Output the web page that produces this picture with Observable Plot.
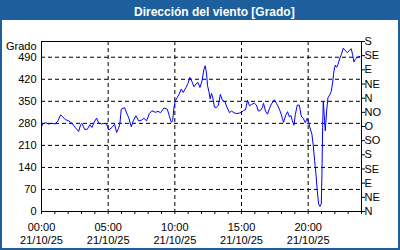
<!DOCTYPE html>
<html>
<head>
<meta charset="utf-8">
<script src="https://cdn.jsdelivr.net/npm/d3@7"></script>
<script src="https://cdn.jsdelivr.net/npm/@observablehq/plot@0.6"></script>
<style>
  html, body { margin: 0; padding: 0; background: #ffffff; }
  #wrap { position: relative; width: 400px; height: 250px; background: #1d5e9c; overflow: hidden; font-family: "Liberation Sans", Arial, sans-serif; }
  #title { position: absolute; left: 0; top: 2px; width: 400px; height: 20px; line-height: 20px; color: #ffffff; font-weight: bold; font-size: 12px; }
  #title span { position: absolute; left: 134px; top: 0; white-space: nowrap; }
  #panel { position: absolute; left: 2px; top: 20px; width: 396px; height: 228px; background: #ffffff; }
  #chart { position: absolute; left: 0; top: 20px; }
</style>
</head>
<body>
<div id="wrap">
  <div id="panel"></div>
  <div id="title"><span>Dirección del viento [Grado]</span></div>
  <div id="chart"></div>
</div>
<script>
const chartTitle = "Dirección del viento [Grado]";
const yUnitLabel = "Grado";
const dateLabel = "21/10/25";

const times = [
  "00:00","00:05","00:20","00:32","00:47","01:02","01:14","01:26","01:35","01:47",
  "02:02","02:17","02:32","02:47","02:56","03:02","03:14","03:26","03:38","03:47",
  "03:56","04:08","04:17","04:29","04:41","04:53","05:03","05:17","05:29","05:38",
  "05:47","05:53","05:59","06:14","06:23","06:33","06:44","06:53","07:05","07:17",
  "07:29","07:41","07:53","08:05","08:17","08:32","08:44","08:56","09:11","09:26",
  "09:35","09:44","09:50","09:56","10:02","10:11","10:20","10:29","10:38","10:50",
  "10:59","11:08","11:17","11:26","11:35","11:44","11:53","12:02","12:11","12:17",
  "12:23","12:27","12:33","12:39","12:45","12:51","12:58","13:07","13:16","13:25",
  "13:34","13:45","13:54","14:06","14:15","14:28","14:39","14:51","15:00","15:09",
  "15:18","15:27","15:36","15:45","15:58","16:07","16:16","16:25","16:34","16:39",
  "16:48","16:57","17:06","17:15","17:28","17:37","17:46","17:55","18:04","18:09",
  "18:18","18:27","18:36","18:42","18:48","18:56","19:02","19:11","19:20","19:29",
  "19:38","19:47","19:56","20:02","20:08","20:17","20:23","20:29","20:35","20:41",
  "20:47","20:53","20:59","21:02","21:05","21:08","21:14","21:17","21:23","21:29",
  "21:38","21:44","21:50","21:56","22:02","22:08","22:14","22:23","22:29","22:38",
  "22:47","22:56","23:05","23:14","23:20","23:26","23:32","23:41","23:47","23:53"
];
const values = [
  269,278,282,278,280,278,288,307,301,292,
  288,280,267,254,276,280,261,261,276,267,
  282,297,282,278,280,278,259,267,277,251,
  264,281,325,330,313,297,269,288,304,288,
  290,296,288,311,320,315,318,314,329,325,
  304,283,288,330,352,362,373,389,378,394,
  407,426,413,396,405,410,394,414,452,463,
  436,400,382,358,375,361,332,330,338,372,
  353,349,332,314,319,313,311,313,315,321,
  323,353,336,340,344,338,319,321,330,344,
  319,309,328,342,355,344,332,317,296,283,
  304,317,300,305,290,274,307,338,338,303,
  296,282,296,282,266,245,209,161,119,66,
  24,16,24,119,266,351,288,256,319,361,
  372,382,409,446,465,458,467,488,498,519,
  511,505,511,517,498,475,483,490,493,492
];

const yLeftTicks = [0, 70, 140, 210, 280, 350, 420, 490];
const yRightTicks = [0, 45, 90, 135, 180, 225, 270, 315, 360, 405, 450, 495, 540];
const yRightLabels = ["N","NE","E","SE","S","SO","O","NO","N","NE","E","SE","S"];
const xLabelHours = [0, 5, 10, 15, 20];
const yDomain = [0, 540];

const base = Date.UTC(2025, 9, 21);
const toDate = (h, m) => new Date(base + (h * 60 + m) * 60000);
const data = times.map((t, i) => {
  const [h, m] = t.split(":").map(Number);
  return { date: toDate(h, m), value: values[i] };
});
const majorDates = xLabelHours.map(h => toDate(h, 0));
const hourDates = d3.range(0, 25).map(h => toDate(h, 0));
const pad = n => String(n).padStart(2, "0");

const dash = "4,3";
const chart = Plot.plot({
  width: 400,
  height: 230,
  marginLeft: 41,
  marginRight: 39,
  marginTop: 21,
  marginBottom: 39,
  style: { background: "transparent", fontFamily: "'Liberation Sans', Arial, sans-serif", fontSize: "11px", color: "#000" },
  x: { type: "utc", domain: [toDate(0, 0), toDate(24, 0)] },
  y: { domain: yDomain },
  marks: [
    Plot.gridY(yLeftTicks.slice(1), { stroke: "#000", strokeOpacity: 1, strokeDasharray: dash }),
    Plot.gridX(majorDates.slice(1), { stroke: "#000", strokeOpacity: 1, strokeDasharray: dash }),
    Plot.line(data, { x: "date", y: "value", stroke: "#0000ff", strokeWidth: 1 }),
    Plot.frame({ stroke: "#000" }),
    Plot.axisY(yLeftTicks, { anchor: "left", tickSize: 0, tickPadding: 5, label: null }),
    Plot.text([yUnitLabel], { frameAnchor: "top-left", textAnchor: "end", lineAnchor: "middle", dx: -5, dy: 5 }),
    Plot.axisY(yRightTicks, { anchor: "right", tickSize: 3, tickPadding: 0, label: null,
      tickFormat: d => yRightLabels[yRightTicks.indexOf(d)] }),
    Plot.axisX(hourDates, { anchor: "bottom", tickSize: 3, tickFormat: () => "", label: null }),
    Plot.axisX(majorDates, { anchor: "bottom", tickSize: 0, tickPadding: 10, lineHeight: 1.22, label: null,
      tickFormat: d => `${pad(d.getUTCHours())}:${pad(d.getUTCMinutes())}\n${dateLabel}` })
  ]
});
document.getElementById("chart").appendChild(chart);
</script>
</body>
</html>
